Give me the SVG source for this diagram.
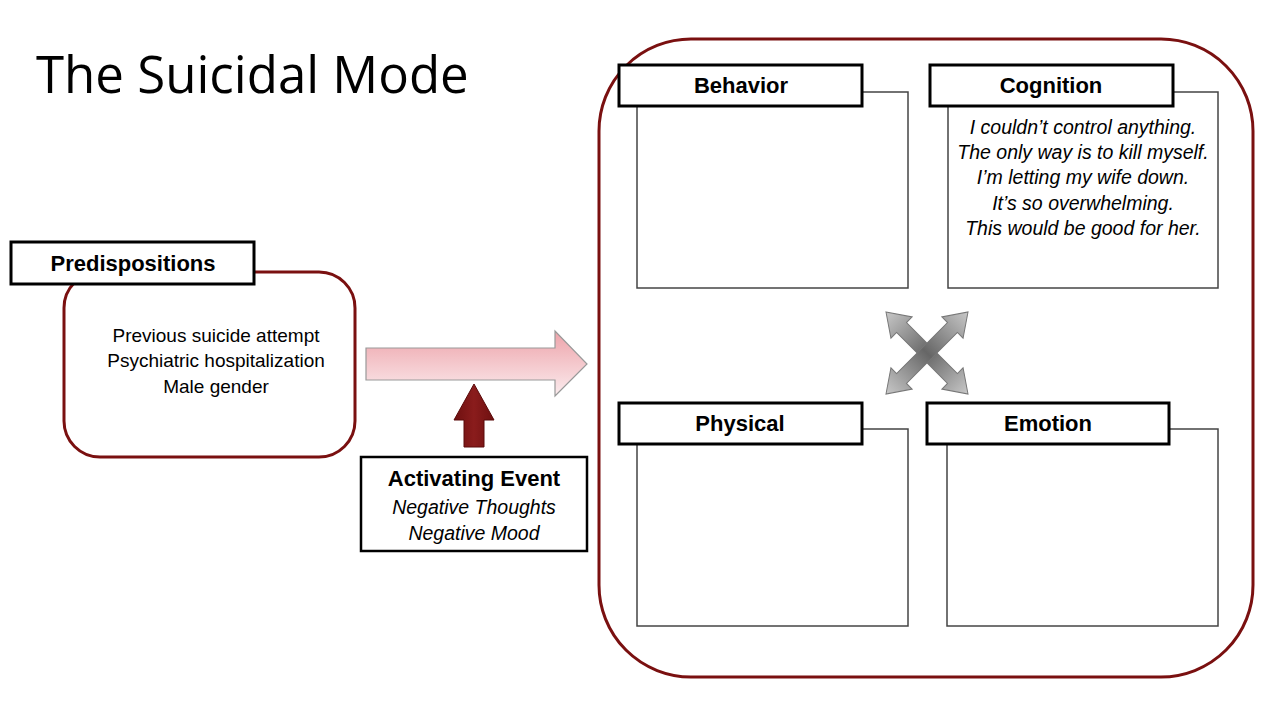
<svg xmlns="http://www.w3.org/2000/svg" width="1280" height="720" viewBox="0 0 1280 720">
<defs>
<style>
.lbl{fill:#fff;stroke:#000;stroke-width:3}
.box{fill:#fff;stroke:#444;stroke-width:1.5}
.ltxt{font-family:"Liberation Sans",Arial,sans-serif;font-weight:bold;font-size:22px;fill:#000;text-anchor:middle}
.btxt{font-family:"Liberation Sans",Arial,sans-serif;font-size:19px;fill:#000;text-anchor:middle}
.itxt{font-family:"Liberation Sans",Arial,sans-serif;font-style:italic;font-size:19.5px;fill:#000;text-anchor:middle}
.red{fill:#fff;stroke:#7a1010;stroke-width:3}
</style>
<linearGradient id="pink" x1="0" y1="0" x2="0" y2="1">
<stop offset="0" stop-color="#eda3aa"/>
<stop offset="1" stop-color="#fbecee"/>
</linearGradient>
<linearGradient id="gray" x1="0" y1="0" x2="1" y2="0">
<stop offset="0" stop-color="#c8c8c8"/>
<stop offset="0.5" stop-color="#666"/>
<stop offset="1" stop-color="#c8c8c8"/>
</linearGradient>
<linearGradient id="dred" x1="0" y1="0" x2="1" y2="0">
<stop offset="0" stop-color="#6e1010"/>
<stop offset="0.5" stop-color="#8a1c1c"/>
<stop offset="1" stop-color="#6e1010"/>
</linearGradient>
</defs>
<rect width="1280" height="720" fill="#fff"/>
<text x="36" y="93" font-family="'Open Sans','Liberation Sans',sans-serif" font-size="51" fill="#000">The Suicidal Mode</text>

<g id="suicidal-mode">
<rect class="red" x="599" y="39" width="654" height="638" rx="92" ry="92"/>
</g>

<g id="behavior">
<rect class="box" x="637" y="92" width="271" height="196"/>
<rect class="lbl" x="619" y="65" width="243" height="41"/>
<text class="ltxt" x="741" y="93">Behavior</text>
</g>

<g id="cognition">
<rect class="box" x="948" y="92" width="270" height="196"/>
<rect class="lbl" x="930" y="65" width="243" height="41"/>
<text class="ltxt" x="1051" y="93">Cognition</text>
<text class="itxt" x="1083" y="134">I couldn’t control anything.</text>
<text class="itxt" x="1083" y="159">The only way is to kill myself.</text>
<text class="itxt" x="1083" y="184">I’m letting my wife down.</text>
<text class="itxt" x="1083" y="210">It’s so overwhelming.</text>
<text class="itxt" x="1083" y="235">This would be good for her.</text>
</g>

<g id="physical">
<rect class="box" x="637" y="429" width="271" height="197"/>
<rect class="lbl" x="619" y="403" width="243" height="41"/>
<text class="ltxt" x="740" y="431">Physical</text>
</g>

<g id="emotion">
<rect class="box" x="947" y="429" width="271" height="197"/>
<rect class="lbl" x="927" y="403" width="242" height="41"/>
<text class="ltxt" x="1048" y="431">Emotion</text>
</g>

<g id="predispositions">
<rect class="red" x="64" y="272" width="291" height="185" rx="36" ry="36"/>
<rect class="lbl" x="11" y="242" width="243" height="42"/>
<text class="ltxt" x="133" y="271">Predispositions</text>
<text class="btxt" x="216" y="342">Previous suicide attempt</text>
<text class="btxt" x="216" y="367">Psychiatric hospitalization</text>
<text class="btxt" x="216" y="393">Male gender</text>
</g>

<g id="activating-event">
<rect x="361" y="457" width="226" height="94" fill="#fff" stroke="#000" stroke-width="2.5"/>
<text class="ltxt" x="474" y="486">Activating Event</text>
<text class="itxt" x="474" y="514">Negative Thoughts</text>
<text class="itxt" x="474" y="540">Negative Mood</text>
</g>

<g id="connectors">
<polygon points="366,348 555,348 555,331 587,364 555,396 555,380 366,380" fill="url(#pink)" stroke="#999" stroke-width="1.2"/>
<polygon points="474,384 494,420 484,420 484,447 464,447 464,420 454,420" fill="url(#dred)" stroke="#5a0a0a" stroke-width="1"/>
<g transform="translate(927,353)">
<polygon transform="rotate(45)" points="-58,0 -36,-15 -36,-7 36,-7 36,-15 58,0 36,15 36,7 -36,7 -36,15" fill="url(#gray)" stroke="#777" stroke-width="1"/>
<polygon transform="rotate(-45)" points="-58,0 -36,-15 -36,-7 36,-7 36,-15 58,0 36,15 36,7 -36,7 -36,15" fill="url(#gray)" stroke="#777" stroke-width="1"/>
</g>
</g>
</svg>
